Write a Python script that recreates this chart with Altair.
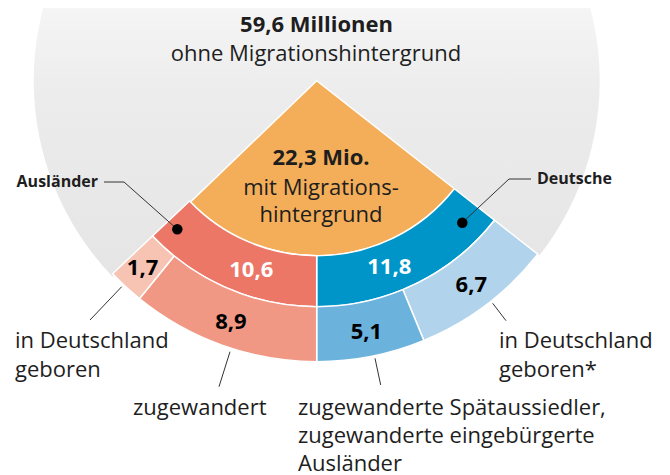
import math
import altair as alt
import pandas as pd

# ---------------- data (millions of people) ----------------
without_name = "ohne Migrationshintergrund"
without_value = 59.6
with_name = "mit Migrationshintergrund"
with_value = 22.3

group_names = ["Deutsche", "Ausländer"]
group_values = [11.8, 10.6]

sub_groups = ["Deutsche", "Deutsche", "Ausländer", "Ausländer"]
sub_names = [
    "in Deutschland geboren*",
    "zugewanderte Spätaussiedler, zugewanderte eingebürgerte Ausländer",
    "zugewandert",
    "in Deutschland geboren",
]
sub_values = [6.7, 5.1, 8.9, 1.7]


def de(v):
    return f"{v:.1f}".replace(".", ",")


total = with_value + without_value
boundary = group_values[0]  # Deutsche | Ausländer boundary, pointing straight down
start = math.pi - 2 * math.pi * boundary / total
theta_scale = alt.Scale(domain=[0, total], range=[start, start + 2 * math.pi])


def stack(names, values):
    t0, rows = 0.0, []
    for n, v in zip(names, values):
        rows.append({"name": n, "value": v, "t0": t0, "t1": t0 + v,
                     "tm": t0 + v / 2, "label": de(v)})
        t0 += v
    return pd.DataFrame(rows)


core = stack([with_name, without_name], [with_value, without_value])
ring1 = stack(group_names, group_values)
ring2 = stack([f"{g}: {n}" for g, n in zip(sub_groups, sub_names)], sub_values)
# inner labels sit a little closer to the bottom boundary
ring1["tl"] = boundary + (ring1["tm"] - boundary) * 0.82

# ---------------- styling / layout ----------------
FONT = "Open Sans"
INK = "#1e1e1e"
CX, CY = 308.7, 72.7
R_CORE, R_RING1, R_RING2, R_GRAY = 175, 226, 281, 283

color_domain = [with_name] + group_names + list(ring2["name"])
color_range = ["#F4AE59", "#0095C8", "#EC7767",
               "#B1D4EC", "#6BB2DD", "#F19884", "#F7C4B4"]
color = alt.Color("name:N", scale=alt.Scale(domain=color_domain, range=color_range), legend=None)

def th(field):
    return alt.Theta(f"{field}:Q", scale=theta_scale, stack=None)

center = dict(x=alt.value(CX), y=alt.value(CY))

gray_fill = alt.LinearGradient(
    gradient="linear", x1=0, x2=0, y1=0, y2=1,
    stops=[alt.GradientStop(color="#f7f7f7", offset=0.0),
           alt.GradientStop(color="#f6f6f6", offset=0.42),
           alt.GradientStop(color="#ececec", offset=0.62),
           alt.GradientStop(color="#e5e5e5", offset=1.0)])

gray = alt.Chart(core[core["name"] == without_name]).mark_arc(
    radius=R_GRAY, radius2=0, fill=gray_fill
).encode(theta=th("t0"), theta2="t1:Q", **center)

orange = alt.Chart(core[core["name"] == with_name]).mark_arc(
    radius=R_CORE, radius2=0, stroke="white", strokeWidth=1.5
).encode(theta=th("t0"), theta2="t1:Q", color=color, **center)

arc1 = alt.Chart(ring1).mark_arc(
    radius=R_RING1, radius2=R_CORE, stroke="white", strokeWidth=1.5
).encode(theta=th("t0"), theta2="t1:Q", color=color, **center)

arc2 = alt.Chart(ring2).mark_arc(
    radius=R_RING2, radius2=R_RING1, stroke="white", strokeWidth=1.5
).encode(theta=th("t0"), theta2="t1:Q", color=color, **center)

lab1 = alt.Chart(ring1).mark_text(
    font=FONT, fontSize=22, fontWeight="bold", color="white", baseline="middle", align="center"
).encode(theta=th("tl"), radius=alt.value(200), text="label:N", **center)

lab2 = alt.Chart(ring2).mark_text(
    font=FONT, fontSize=22, fontWeight="bold", color="black", baseline="middle", align="center"
).encode(theta=th("tm"), radius=alt.value(256), text="label:N", **center)

# annotation layout (pixel positions of texts, leader lines)
XP = alt.X("x:Q", scale=None, axis=None)
YP = alt.Y("y:Q", scale=None, axis=None)

def texts(rows, **kw):
    df = pd.DataFrame(rows, columns=["text", "x", "y"])
    return alt.Chart(df).mark_text(font=FONT, color=INK, baseline="alphabetic", **kw).encode(
        x=XP, y=YP, text="text:N")

t_title_b = texts([(f"{de(without_value)} Millionen", 308.5, 24)], fontSize=22, fontWeight="bold", align="center")
t_title = texts([(without_name, 308, 53)], fontSize=22, align="center")
t_core_b = texts([(f"{de(with_value)} Mio.", 313, 157)], fontSize=22, fontWeight="bold", align="center")
t_core = texts([("mit Migrations-", 313, 187), ("hintergrund", 313, 214)], fontSize=22, align="center")
t_aus = texts([(group_names[1], 90, 178.5)], fontSize=16, fontWeight="bold", align="right")
t_deu = texts([(group_names[0], 529, 176)], fontSize=16, fontWeight="bold", align="left")
t_bottom = texts([
    ("in Deutschland", 7, 340), ("geboren", 7, 369),
    ("zugewandert", 125, 407),
    ("zugewanderte Spätaussiedler,", 290, 407),
    ("zugewanderte eingebürgerte", 290, 435),
    ("Ausländer", 290, 463),
    ("in Deutschland", 491, 340), ("geboren*", 491, 369),
], fontSize=22, align="left")

leaders = pd.DataFrame([
    (96, 174, 116, 174), (116, 174, 169.3, 221.3),
    (501, 171, 523, 171), (501, 171, 454.3, 214.7),
    (113.7, 278.7, 82, 312),
    (222, 343.7, 211, 378.7),
    (367, 350.3, 372.7, 377),
    (484.7, 295.3, 498, 312.7),
], columns=["x", "y", "x2", "y2"])
rules = alt.Chart(leaders).mark_rule(color="#333333", strokeWidth=1).encode(
    x=XP, y=YP, x2="x2:Q", y2="y2:Q")

dots_df = pd.DataFrame([(169.3, 221.3), (454.3, 214.7)], columns=["x", "y"])
dots = alt.Chart(dots_df).mark_circle(color="black", opacity=1, size=110).encode(x=XP, y=YP)

chart = alt.layer(
    gray, orange, arc1, arc2, lab1, lab2, rules, dots,
    t_title_b, t_title, t_core_b, t_core, t_aus, t_deu, t_bottom,
).properties(
    width=654, height=467, autosize="none", padding=0
).configure_view(stroke=None)

chart.save("out.html", embed_options={"renderer": "svg", "actions": False})
